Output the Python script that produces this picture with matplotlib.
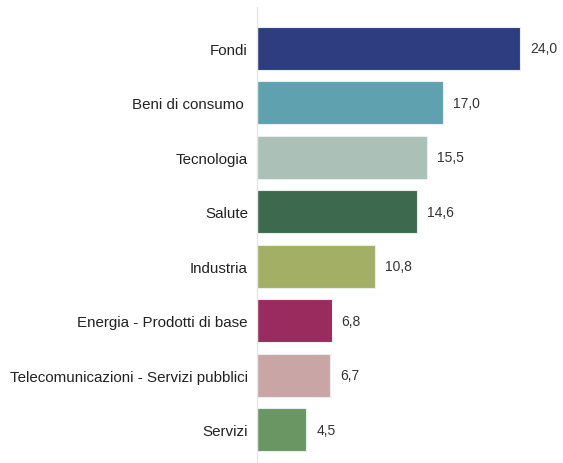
import matplotlib.pyplot as plt

categories = ['Fondi', 'Beni di consumo ', 'Tecnologia', 'Salute', 'Industria',
              'Energia - Prodotti di base', 'Telecomunicazioni - Servizi pubblici', 'Servizi']
values = [24.0, 17.0, 15.5, 14.6, 10.8, 6.8, 6.7, 4.5]
colors = ['#2E3D80', '#5FA1AE', '#ABC0B6', '#3D6A4E', '#A3AF65', '#9A2B5E', '#C9A5A5', '#6A9664']

plt.rcParams['font.family'] = ['Liberation Sans', 'DejaVu Sans']

fig = plt.figure(figsize=(5.63, 4.64), dpi=100)
ax = fig.add_axes([257/563, 0, 1 - 257/563, 456/464])

y = list(range(len(values)))
ax.barh(y, values, height=0.79, color=colors, edgecolor='#e8eef0', linewidth=0.8)
for yi, v in zip(y, values):
    ax.annotate(f'{v:.1f}'.replace('.', ','), (v, yi), xytext=(7.2, 0),
                textcoords='offset points', va='center', ha='left', fontsize=10, color='#333333')

ax.set_yticks(y)
ax.set_yticklabels(categories, fontsize=10.9, color='#222222')
ax.tick_params(axis='y', length=0, pad=6.5)
ax.set_xticks([])
ax.set_xlim(0, 306 / (263 / 24))
ax.set_ylim(7.615, -0.762)
for s in ['top', 'right', 'bottom']:
    ax.spines[s].set_visible(False)
ax.spines['left'].set_color('#e6e6e6')
ax.spines['left'].set_linewidth(1)

fig.savefig('out.png', dpi=100)
